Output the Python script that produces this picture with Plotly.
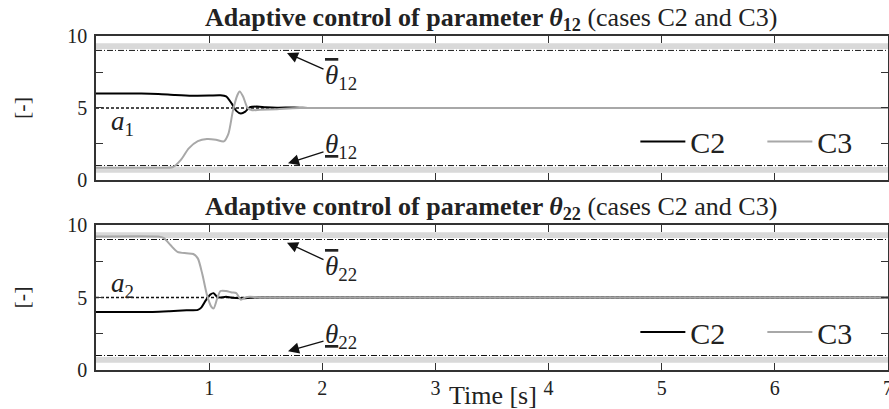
import plotly.graph_objects as go

# ---------------- data ----------------
t_c2_top = [0, 0.4, 0.55, 0.7, 0.85, 1.0, 1.1, 1.15, 1.2, 1.24, 1.28, 1.32, 1.36, 1.42, 1.5, 1.6, 1.75, 1.9, 2.2, 7.0]
v_c2_top = [6.0, 6.0, 5.97, 5.9, 5.85, 5.86, 5.88, 5.8, 5.3, 4.8, 4.62, 4.75, 5.05, 5.1, 5.05, 5.02, 5.04, 5.0, 5.0, 5.0]

t_c3_top = [0, 0.5, 0.68, 0.75, 0.82, 0.9, 0.98, 1.06, 1.13, 1.17, 1.21, 1.25, 1.27, 1.3, 1.34, 1.38, 1.45, 1.6, 1.8, 7.0]
v_c3_top = [0.85, 0.85, 0.9, 1.4, 2.2, 2.7, 2.85, 2.8, 2.68, 3.2, 4.8, 5.9, 6.15, 5.8, 5.0, 4.85, 4.88, 4.92, 5.0, 5.0]

t_c2_bot = [0, 0.5, 0.65, 0.8, 0.9, 0.93, 0.97, 1.01, 1.04, 1.07, 1.1, 1.15, 1.2, 1.3, 1.4, 7.0]
v_c2_bot = [4.0, 4.0, 4.05, 4.12, 4.15, 4.3, 4.8, 5.2, 5.3, 5.05, 5.0, 5.05, 4.98, 4.95, 5.0, 5.0]

t_c3_bot = [0, 0.55, 0.6, 0.66, 0.72, 0.8, 0.86, 0.9, 0.94, 0.98, 1.02, 1.04, 1.07, 1.1, 1.15, 1.2, 1.24, 1.28, 1.32, 1.36, 1.45, 7.0]
v_c3_bot = [9.2, 9.2, 9.1, 8.6, 8.15, 8.05, 8.0, 7.7, 6.6, 5.2, 4.35, 4.25, 4.9, 5.45, 5.45, 5.35, 5.3, 4.85, 5.0, 5.05, 5.0, 5.0]

bounds = [1, 9]              # lower / upper parameter bounds
a_values = [5, 5]            # a1, a2 nominal values
band_low = [0.5, 0.9]
band_high = [9.1, 9.5]
x_ticks = [1, 2, 3, 4, 5, 6, 7]
y_tickvals = [0, 5, 10]
y_minor = [2.5, 7.5]

FONT = "Liberation Serif"
TXT = "#222222"
C2_COLOR = "#000000"
C3_COLOR = "#a8a8a8"

fig = go.Figure()

def add_panel(t2, v2, t3, v3, xa, ya, leg):
    fig.add_trace(go.Scatter(x=t2, y=v2, mode="lines", name="C2", xaxis=xa, yaxis=ya,
                             line=dict(color=C2_COLOR, width=2, shape="spline", smoothing=0.7),
                             legend=leg))
    fig.add_trace(go.Scatter(x=t3, y=v3, mode="lines", name="C3", xaxis=xa, yaxis=ya,
                             line=dict(color=C3_COLOR, width=2, shape="spline", smoothing=0.7),
                             legend=leg))

add_panel(t_c2_top, v_c2_top, t_c3_top, v_c3_top, "x", "y", "legend")
add_panel(t_c2_bot, v_c2_bot, t_c3_bot, v_c3_bot, "x2", "y2", "legend2")

shapes = []
for xr, yr, a in [("x domain", "y", a_values[0]), ("x2 domain", "y2", a_values[1])]:
    for band in (band_low, band_high):
        shapes.append(dict(type="rect", xref=xr, yref=yr, x0=0, x1=1, y0=band[0], y1=band[1],
                           fillcolor="#d9d9d9", line=dict(width=0), layer="below"))
    for b in bounds:
        shapes.append(dict(type="line", xref=xr, yref=yr, x0=0, x1=1, y0=b, y1=b,
                           line=dict(color="#111111", width=1, dash="6px,2px,1px,2px"), layer="below"))
    shapes.append(dict(type="line", xref=xr, yref=yr, x0=0, x1=1, y0=a, y1=a,
                       line=dict(color="#111111", width=1.5, dash="3px,2px"), layer="below"))

axis_common = dict(showline=True, linecolor="#333333", linewidth=1.5, mirror="ticks",
                   ticks="inside", ticklen=7, tickcolor="#333333", showgrid=False, zeroline=False,
                   automargin=False, ticklabeloverflow="allow",
                   tickfont=dict(family=FONT, size=20, color=TXT))
yminor = dict(tickvals=y_minor, ticks="inside", ticklen=7, tickcolor="#333333", showgrid=False)

legend_common = dict(orientation="h", xanchor="left", yanchor="middle",
                     bgcolor="rgba(0,0,0,0)", font=dict(family=FONT, size=30, color=TXT),
                     entrywidth=67, entrywidthmode="pixels", itemwidth=45)

fig.update_layout(
    width=889, height=409,
    margin=dict(l=96, r=1, t=36, b=39, autoexpand=False),
    paper_bgcolor="white", plot_bgcolor="white",
    font=dict(family=FONT, color=TXT),
    xaxis=dict(domain=[0, 1], anchor="y", range=[0, 7], tickvals=x_ticks, showticklabels=False, **axis_common),
    yaxis=dict(domain=[0.5689, 1], anchor="x", range=[0, 10], tickvals=y_tickvals,
               minor=yminor, ticklabelstandoff=3, **axis_common),
    xaxis2=dict(domain=[0, 1], anchor="y2", range=[0, 7], tickvals=x_ticks, matches="x",
                ticklabelstandoff=-1, **axis_common),
    yaxis2=dict(domain=[0, 0.4341], anchor="x2", range=[0, 10], tickvals=y_tickvals,
                minor=yminor, ticklabelstandoff=3, **axis_common),
    shapes=shapes,
    legend=dict(x=0.681, y=0.684, **legend_common),
    legend2=dict(x=0.681, y=0.114, **legend_common),
)

ann = []
titles = [("<b>Adaptive control of parameter <i>θ</i><sub>12</sub></b> (cases C2 and C3)", 1.0),
          ("<b>Adaptive control of parameter <i>θ</i><sub>22</sub></b> (cases C2 and C3)", 0.4341)]
for txt, ytop in titles:
    ann.append(dict(text=txt, xref="paper", yref="paper", x=0.499, y=ytop, yshift=17,
                    xanchor="center", yanchor="middle", showarrow=False,
                    font=dict(family=FONT, size=26, color=TXT)))

for yc in [(0.5689 + 1) / 2, 0.4341 / 2]:
    ann.append(dict(text="[-]", xref="paper", yref="paper", x=0, xshift=-74, y=yc,
                    textangle=-90, showarrow=False, xanchor="center", yanchor="middle",
                    font=dict(family=FONT, size=22, color=TXT)))

ann.append(dict(text="Time [s]", xref="paper", yref="paper", x=(493 - 96) / 792, y=0, yshift=-25,
                xanchor="center", yanchor="middle", showarrow=False,
                font=dict(family=FONT, size=26, color=TXT)))

# a labels
ann.append(dict(text="<i>a</i><sub>1</sub>", xref="x", yref="y", x=0.235, y=3.95, showarrow=False,
                font=dict(family=FONT, size=27, color=TXT)))
ann.append(dict(text="<i>a</i><sub>2</sub>", xref="x2", yref="y2", x=0.235, y=5.85, showarrow=False,
                font=dict(family=FONT, size=27, color=TXT)))

over = "<span style='text-decoration:overline'><i>θ</i></span>"
under = "<u><i>θ</i></u>"
arrows = [
    ("x", "y", over + "<sub>12</sub>", 1.688, 8.82, 54, 24),
    ("x", "y", under + "<sub>12</sub>", 1.697, 1.16, 53, -17),
    ("x2", "y2", over + "<sub>22</sub>", 1.688, 8.78, 54, 25),
    ("x2", "y2", under + "<sub>22</sub>", 1.697, 1.3, 53, -15),
]
for xr, yr, txt, x, y, ax, ay in arrows:
    ann.append(dict(text=txt, xref=xr, yref=yr, x=x, y=y, ax=ax, ay=ay, showarrow=True,
                    arrowhead=2, arrowsize=1.7, arrowwidth=1.3, arrowcolor="#111111", standoff=0,
                    font=dict(family=FONT, size=27, color=TXT)))

fig.update_layout(annotations=ann)

fig.write_html("out.html", config={"displayModeBar": False},
               post_script="document.body.style.margin='0';document.body.style.overflow='hidden';")
